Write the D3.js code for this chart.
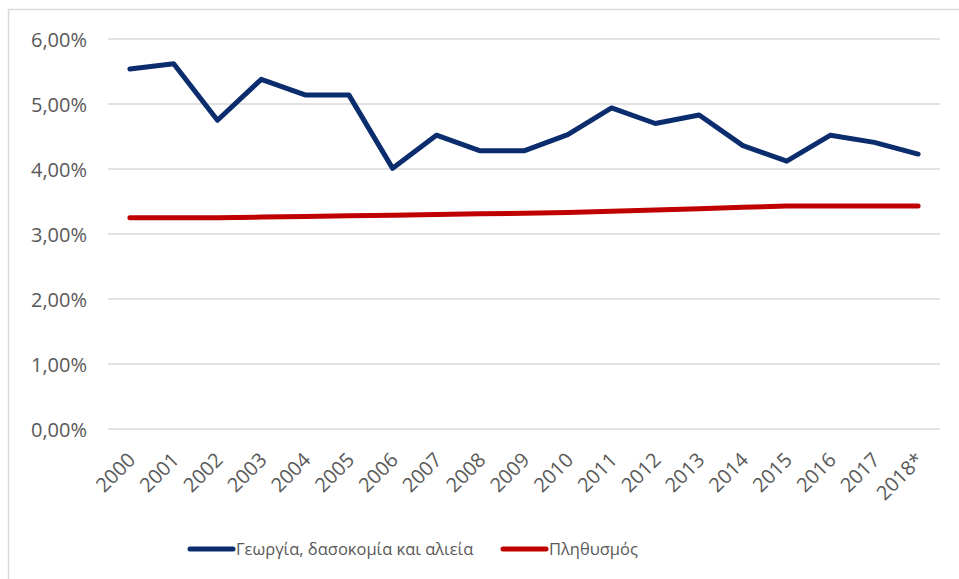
<!DOCTYPE html>
<meta charset="utf-8">
<style>
body { margin: 0; background: #fff; }
svg { display: block; font-family: "Open Sans", sans-serif; }
.grid line { stroke: #d9d9d9; stroke-width: 1.5px; }
.axis text { fill: #595959; font-size: 20px; font-family: "Open Sans", sans-serif; }
.axis path, .axis line { display: none; }
.legend text { fill: #595959; font-size: 16.5px; font-family: "Open Sans", sans-serif; }
</style>
<svg width="959" height="579"></svg>
<script src="https://d3js.org/d3.v7.min.js"></script>
<script>
var years = ["2000","2001","2002","2003","2004","2005","2006","2007","2008","2009",
             "2010","2011","2012","2013","2014","2015","2016","2017","2018*"];

// share of agriculture, forestry and fishing (%)
var agri = [5.54,5.62,4.75,5.38,5.14,5.14,4.01,4.52,4.28,4.28,
            4.53,4.94,4.70,4.83,4.36,4.12,4.52,4.41,4.23];

// population share (%)
var pop = [3.25,3.25,3.25,3.26,3.27,3.28,3.29,3.30,3.31,3.32,
           3.33,3.35,3.37,3.39,3.41,3.43,3.43,3.43,3.43];

var yTicks = [0,1,2,3,4,5,6];

var seriesNames = ["Γεωργία, δασοκομία και αλιεία", "Πληθυσμός"];
var seriesColors = ["#0b2d6e", "#c00000"];

var svg = d3.select("svg"),
    width = +svg.attr("width"),
    height = +svg.attr("height");

var plotL = 108, plotR = 940, plotT = 39, plotB = 429;

var x = d3.scaleBand().domain(years).range([plotL, plotR]);
var y = d3.scaleLinear().domain([0, 6]).range([plotB, plotT]);

var locale = d3.formatLocale({decimal: ",", thousands: ".", grouping: [3], currency: ["", "€"]});
var pct = locale.format(".2f");

// outer frame
svg.append("rect")
    .attr("x", 8.5).attr("y", 9.5)
    .attr("width", width).attr("height", height)
    .attr("fill", "none")
    .attr("stroke", "#d9d9d9")
    .attr("stroke-width", 1.5);

// gridlines
svg.append("g")
    .attr("class", "grid")
  .selectAll("line")
    .data(yTicks)
  .enter().append("line")
    .attr("x1", plotL).attr("x2", plotR)
    .attr("y1", function(d) { return y(d); })
    .attr("y2", function(d) { return y(d); });

// y axis
svg.append("g")
    .attr("class", "axis")
    .attr("transform", "translate(" + 93 + ",0)")
    .call(d3.axisLeft(y).tickValues(yTicks).tickSize(0).tickPadding(6)
        .tickFormat(function(d) { return pct(d) + "%"; }))
  .selectAll("text")
    .attr("dy", "0.35em");

// x axis
svg.append("g")
    .attr("class", "axis")
    .attr("transform", "translate(-6," + (plotB + 28) + ")")
    .call(d3.axisBottom(x).tickSize(0).tickPadding(0))
  .selectAll("text")
    .attr("text-anchor", "end")
    .attr("dx", "0.3em")
    .attr("dy", "0.6em")
    .attr("transform", "rotate(-45)");

var line = d3.line()
    .x(function(d, i) { return x(years[i]) + x.bandwidth() / 2; })
    .y(function(d) { return y(d); });

[agri, pop].forEach(function(s, k) {
    svg.append("path")
        .datum(s)
        .attr("fill", "none")
        .attr("stroke", seriesColors[k])
        .attr("stroke-width", 5)
        .attr("stroke-linejoin", "round")
        .attr("stroke-linecap", "round")
        .attr("d", line);
});

// legend
var legendX = [190, 503];
var legend = svg.append("g").attr("class", "legend")
  .selectAll("g")
    .data(seriesNames)
  .enter().append("g")
    .attr("transform", function(d, i) { return "translate(" + legendX[i] + ",549)"; });

legend.append("line")
    .attr("x1", 0).attr("x2", 43)
    .attr("stroke", function(d, i) { return seriesColors[i]; })
    .attr("stroke-width", 5)
    .attr("stroke-linecap", "round");

legend.append("text")
    .attr("x", 46)
    .attr("dy", "0.35em")
    .text(function(d) { return d; });
</script>
